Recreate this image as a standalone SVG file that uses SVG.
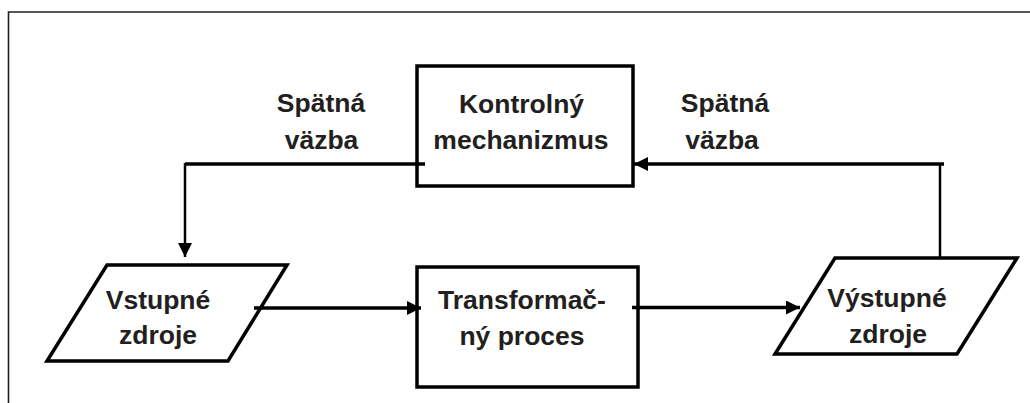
<svg xmlns="http://www.w3.org/2000/svg" width="1030" height="403" viewBox="0 0 1030 403">
  <style>
    .frame { fill: none; stroke: #231f20; stroke-width: 1.6; }
    .shape { fill: #ffffff; stroke: #000000; stroke-width: 3.5; stroke-linejoin: miter; }
    .label { font-family: "Liberation Sans", Arial, sans-serif; font-weight: bold; font-size: 26.5px; fill: #231f20; text-anchor: middle; }
    .wire { fill: none; stroke: #000000; stroke-width: 3.5; }
    .wire-v { fill: none; stroke: #000000; stroke-width: 2.5; }
  </style>
  <defs>
    <marker id="arrow" markerUnits="userSpaceOnUse" markerWidth="15" markerHeight="15" refX="14" refY="7" orient="auto">
      <path d="M0,0 L14,7 L0,14 Z" fill="#000000"/>
    </marker>
  </defs>

  <rect width="1030" height="403" fill="#ffffff"/>
  <!-- page frame, open to the right and bottom -->
  <path class="frame" d="M8.5,403 V12 H1030"/>

  <g id="control">
    <rect class="shape" x="417" y="66" width="216" height="120"/>
    <text class="label" x="521.5" y="113">Kontrolný</text>
    <text class="label" x="521" y="149">mechanizmus</text>
  </g>

  <g id="inputs">
    <polygon class="shape" points="107,265 287,265 228,361 47,361"/>
    <text class="label" x="158" y="309">Vstupné</text>
    <text class="label" x="158" y="344">zdroje</text>
  </g>

  <g id="transformation">
    <rect class="shape" x="417" y="267" width="221" height="120"/>
    <text class="label" x="522" y="309">Transformač-</text>
    <text class="label" x="522" y="345">ný proces</text>
  </g>

  <g id="outputs">
    <polygon class="shape" points="835,258 1017,258 957,354 775,354"/>
    <text class="label" x="887" y="307">Výstupné</text>
    <text class="label" x="888" y="343">zdroje</text>
  </g>

  <g id="feedback-left">
    <text class="label" x="321" y="112">Spätná</text>
    <text class="label" x="321.5" y="149">väzba</text>
  </g>

  <g id="feedback-right">
    <text class="label" x="725" y="112">Spätná</text>
    <text class="label" x="722" y="149">väzba</text>
  </g>

  <!-- connectors, drawn over the shapes so their ends overlap the outlines -->
  <g id="connectors">
    <!-- control -> inputs (feedback) -->
    <path class="wire" d="M425,164 H185"/>
    <path class="wire-v" d="M185,163 V257" marker-end="url(#arrow)"/>
    <!-- outputs -> control (feedback) -->
    <path class="wire-v" d="M940,258 V164"/>
    <path class="wire" d="M944,164 H634" marker-end="url(#arrow)"/>
    <!-- inputs -> transformation -->
    <path class="wire" d="M254,308 H421" marker-end="url(#arrow)"/>
    <!-- transformation -> outputs -->
    <path class="wire" d="M632,307.5 H800" marker-end="url(#arrow)"/>
  </g>
</svg>
